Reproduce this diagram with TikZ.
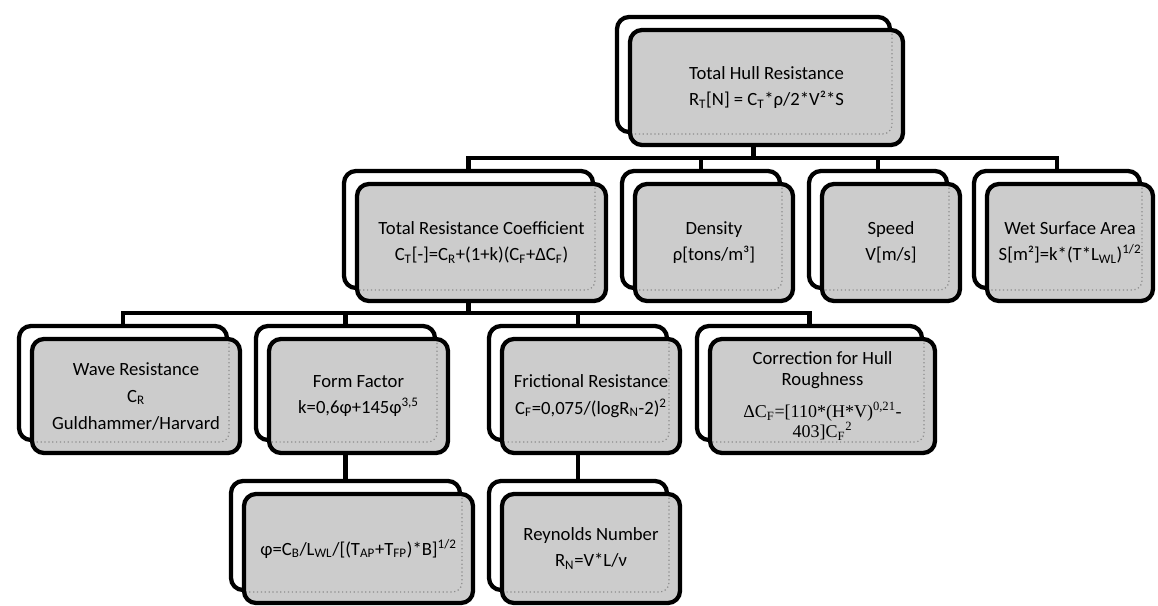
\documentclass[tikz,border=0pt]{standalone}
\usepackage{fontspec}
\setmainfont{Carlito}
\newfontfamily\formelfont{Liberation Serif}
\usetikzlibrary{backgrounds}
\newcommand\tsub[1]{\textsubscript{#1}}
\newcommand\tsup[1]{\textsuperscript{#1}}
\tikzset{
    kaart/.style={
           rectangle,
           rounded corners=9pt,
           draw=black, line width=3.2pt,
           fill=black!20,
           inner sep=0pt,
           align=center,
           font={\fontsize{14}{14.25}\selectfont\lineskiplimit=-50pt},
           path picture={
             \draw[black!45, line width=0.9pt, dotted, rounded corners=7pt]
               ([xshift=-8.25pt]path picture bounding box.north east)
               -- ([xshift=-8.25pt,yshift=8.25pt]path picture bounding box.south east)
               -- ([yshift=8.25pt]path picture bounding box.south west);}},
    kaartbg/.style={
           rectangle,
           rounded corners=9pt,
           draw=black, line width=3.2pt,
           fill=white,
           inner sep=0pt},
    rij1/.style={minimum height=86.25pt},
    rij2/.style={minimum height=87.75pt},
    rij3/.style={minimum height=85.5pt},
    rij4/.style={minimum height=81.75pt},
    tak/.style={draw=black, line width=3.2pt}
    }
\begin{document}
\begin{tikzpicture}[x=0.75pt,y=-0.75pt]
\useasboundingbox (0,0) rectangle (1158,606);
% shadow boxes
\node[kaartbg,rij1,minimum width=204.75pt] (thb) at (753.5,74.5) {};
\node[kaartbg,rij2,minimum width=186.75pt] (trb) at (468.5,229.5) {};
\node[kaartbg,rij2,minimum width=118.5pt] (deb) at (701,229.5) {};
\node[kaartbg,rij2,minimum width=103.5pt] (spb) at (878,229.5) {};
\node[kaartbg,rij2,minimum width=124.5pt] (wsb) at (1057,229.5) {};
\node[kaartbg,rij3,minimum width=156pt] (wrb) at (123,383) {};
\node[kaartbg,rij3,minimum width=134.25pt] (ffb) at (345.5,383) {};
\node[kaartbg,rij3,minimum width=133.5pt] (frb) at (578,383) {};
\node[kaartbg,rij3,minimum width=168.75pt] (cfb) at (809.5,383) {};
\node[kaartbg,rij4,minimum width=171.75pt] (phb) at (345.5,535.5) {};
\node[kaartbg,rij4,minimum width=133.5pt] (rnb) at (578,535.5) {};
% front boxes
\node[kaart,rij1,minimum width=204.75pt] (th) at (766.5,87.5)
  {Total Hull Resistance\\[5pt]R\tsub{T}[N] = C\tsub{T}*ρ/2*V²*S};
\node[kaart,rij2,minimum width=186.75pt] (tr) at (481.5,242.5)
  {Total Resistance Coefficient\\[5.5pt]C\tsub{T}[-]=C\tsub{R}+(1+k)(C\tsub{F}+ΔC\tsub{F})};
\node[kaart,rij2,minimum width=118.5pt] (de) at (714,242.5)
  {Density\\[5.5pt]ρ[tons/m³]};
\node[kaart,rij2,minimum width=103.5pt] (sp) at (891,242.5)
  {Speed\\[5.5pt]V[m/s]};
\node[kaart,rij2,minimum width=124.5pt] (ws) at (1070,242.5)
  {Wet Surface Area\\[5.5pt]S[m²]=k*(T*L\tsub{WL})\tsup{1/2}};
\node[kaart,rij3,minimum width=156pt] (wr) at (136,396)
  {Wave Resistance\\[6pt]C\tsub{R}\\[6pt]Guldhammer/Harvard};
\node[kaart,rij3,minimum width=134.25pt] (ff) at (358.5,396)
  {Form Factor\\[5.5pt]k=0,6φ+145φ\tsup{3,5}};
\node[kaart,rij3,minimum width=133.5pt] (fr) at (591,396)
  {Frictional Resistance\\[5.5pt]C\tsub{F}=0,075/(logR\tsub{N}-2)\tsup{2}};
\node[kaart,rij3,minimum width=168.75pt] (cf) at (822.5,396)
  {Correction for Hull\\[1pt]Roughness\\[10pt]{\formelfont\fontsize{13.5}{14}\selectfont ΔC\tsub{F}=[110*(H*V)\tsup{0,21}-}\\[0.5pt]{\formelfont\fontsize{13.5}{14}\selectfont 403]C\tsub{F}\tsup{2}}};
\node[kaart,rij4,minimum width=171.75pt] (ph) at (358.5,548.5)
  {φ=C\tsub{B}/L\tsub{WL}/[(T\tsub{AP}+T\tsub{FP})*B]\tsup{1/2}};
\node[kaart,rij4,minimum width=133.5pt] (rn) at (591,548.5)
  {Reynolds Number\\[5.5pt]R\tsub{N}=V*L/ν};
% connectors
\coordinate (bus1) at (0,158);
\coordinate (bus2) at (0,313);
\begin{scope}[on background layer]
\draw[tak] (thb.south) -- (thb.south |- bus1) -| (trb.north);
\draw[tak] (thb.south |- bus1) -| (deb.north);
\draw[tak] (thb.south |- bus1) -| (spb.north);
\draw[tak] (thb.south |- bus1) -| (wsb.north);
\draw[tak] (trb.south) -- (trb.south |- bus2) -| (wrb.north);
\draw[tak] (trb.south |- bus2) -| (ffb.north);
\draw[tak] (trb.south |- bus2) -| (frb.north);
\draw[tak] (trb.south |- bus2) -| (cfb.north);
\draw[tak] (ffb.south) -- (phb.north);
\draw[tak] (frb.south) -- (rnb.north);
\end{scope}
\end{tikzpicture}
\end{document}
